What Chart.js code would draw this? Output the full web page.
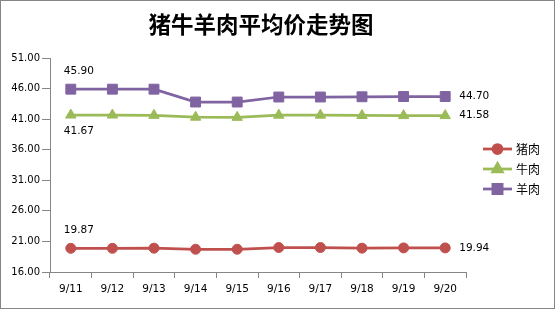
<!DOCTYPE html>
<html>
<head>
<meta charset="utf-8">
<script src="https://cdn.jsdelivr.net/npm/chart.js@4/dist/chart.umd.min.js"></script>
<style>
  body { margin: 0; background: #fff; }
  #wrap { width: 555px; height: 309px; }
</style>
</head>
<body>
<div id="wrap"><canvas id="grafico"></canvas></div>
<script>
// dados
const datas = ['9/11', '9/12', '9/13', '9/14', '9/15', '9/16', '9/17', '9/18', '9/19', '9/20'];
const porco = [19.87, 19.87, 19.90, 19.72, 19.72, 20.00, 20.00, 19.90, 19.94, 19.94];
const boi = [41.67, 41.67, 41.62, 41.32, 41.30, 41.65, 41.65, 41.60, 41.58, 41.58];
const carneiro = [45.90, 45.90, 45.90, 43.80, 43.80, 44.62, 44.62, 44.66, 44.70, 44.70];
const nomes = ['猪肉', '牛肉', '羊肉'];
const titulo = '猪牛羊肉平均价走势图';
const yMin = 16, yMax = 51, yPasso = 5;

const cores = ['#C0504D', '#9BBB59', '#8064A2'];
const estilos = ['circle', 'triangle', 'rect'];
const raios = [5, 6, 7];
const cinza = '#868686';

// rótulos só no primeiro e no último ponto
const rotulosPlugin = {
    id: 'rotulos',
    afterDatasetsDraw(chart) {
        const ctx = chart.ctx;
        ctx.save();
        ctx.font = '10.5px "DejaVu Sans"';
        ctx.fillStyle = '#000';
        ctx.textBaseline = 'middle';
        chart.data.datasets.forEach((ds, i) => {
            const meta = chart.getDatasetMeta(i);
            const p0 = meta.data[0];
            const pN = meta.data[meta.data.length - 1];
            ctx.textAlign = 'center';
            const dy = ds.rotuloAbaixo ? 16 : -18;
            ctx.fillText(ds.data[0].toFixed(2), p0.x + 8, p0.y + dy);
            ctx.textAlign = 'left';
            ctx.fillText(ds.data[ds.data.length - 1].toFixed(2), pN.x + 14, pN.y);
        });
        ctx.restore();
    }
};

// título, legenda com linha + marcador, e moldura
const legendaPlugin = {
    id: 'legenda',
    afterDraw(chart) {
        const ctx = chart.ctx;
        ctx.save();
        ctx.fillStyle = '#000';
        ctx.font = 'bold 22.5px "Noto Sans CJK SC"';
        ctx.textAlign = 'center';
        ctx.textBaseline = 'middle';
        ctx.fillText(titulo, 261, 24);

        chart.data.datasets.forEach((ds, i) => {
            const y = 149 + i * 20;
            ctx.strokeStyle = cores[i];
            ctx.lineWidth = 2.75;
            ctx.beginPath();
            ctx.moveTo(483, y);
            ctx.lineTo(512, y);
            ctx.stroke();
            ctx.fillStyle = cores[i];
            Chart.helpers.drawPoint(ctx, { pointStyle: estilos[i], radius: raios[i] - 0.5, borderWidth: 1 }, 497.5, y);
            ctx.fillStyle = '#000';
            ctx.font = '12px "Noto Sans CJK SC"';
            ctx.textAlign = 'left';
            ctx.textBaseline = 'middle';
            ctx.fillText(nomes[i], 516, y);
        });
        ctx.strokeStyle = cinza;
        ctx.lineWidth = 1;
        ctx.strokeRect(0.5, 0.5, 554, 308);
        ctx.restore();
    }
};

const series = [porco, boi, carneiro];
const ctx = document.getElementById('grafico').getContext('2d');

new Chart(ctx, {
    type: 'line',
    data: {
        labels: datas,
        datasets: series.map((s, i) => ({
            label: nomes[i],
            data: s,
            borderColor: cores[i],
            backgroundColor: cores[i],
            borderWidth: 2.75,
            pointStyle: estilos[i],
            pointRadius: raios[i],
            pointBorderWidth: 1,
            tension: 0,
            rotuloAbaixo: i === 1
        }))
    },
    options: {
        responsive: true,
        maintainAspectRatio: false,
        animation: false,
        layout: { padding: { left: 0, right: 89, top: 58, bottom: 0 } },
        plugins: {
            legend: { display: false },
            tooltip: { enabled: false },
            title: { display: false }
        },
        scales: {
            x: {
                offset: true,
                grid: { drawOnChartArea: false, drawTicks: true, tickLength: 6, color: cinza, offset: true },
                border: { color: cinza },
                ticks: { color: '#000', font: { family: '"DejaVu Sans"', size: 10.5 }, padding: 5, maxRotation: 0 },
                afterFit(scale) { scale.height = 37; }
            },
            y: {
                min: yMin,
                max: yMax,
                grid: { drawOnChartArea: false, drawTicks: true, tickLength: 8, color: cinza },
                border: { color: cinza },
                ticks: {
                    stepSize: yPasso,
                    color: '#000',
                    font: { family: '"DejaVu Sans"', size: 10 },
                    padding: 2,
                    callback: v => v.toFixed(2)
                },
                afterFit(scale) { scale.width = 50; }
            }
        }
    },
    plugins: [rotulosPlugin, legendaPlugin]
});
</script>
</body>
</html>
